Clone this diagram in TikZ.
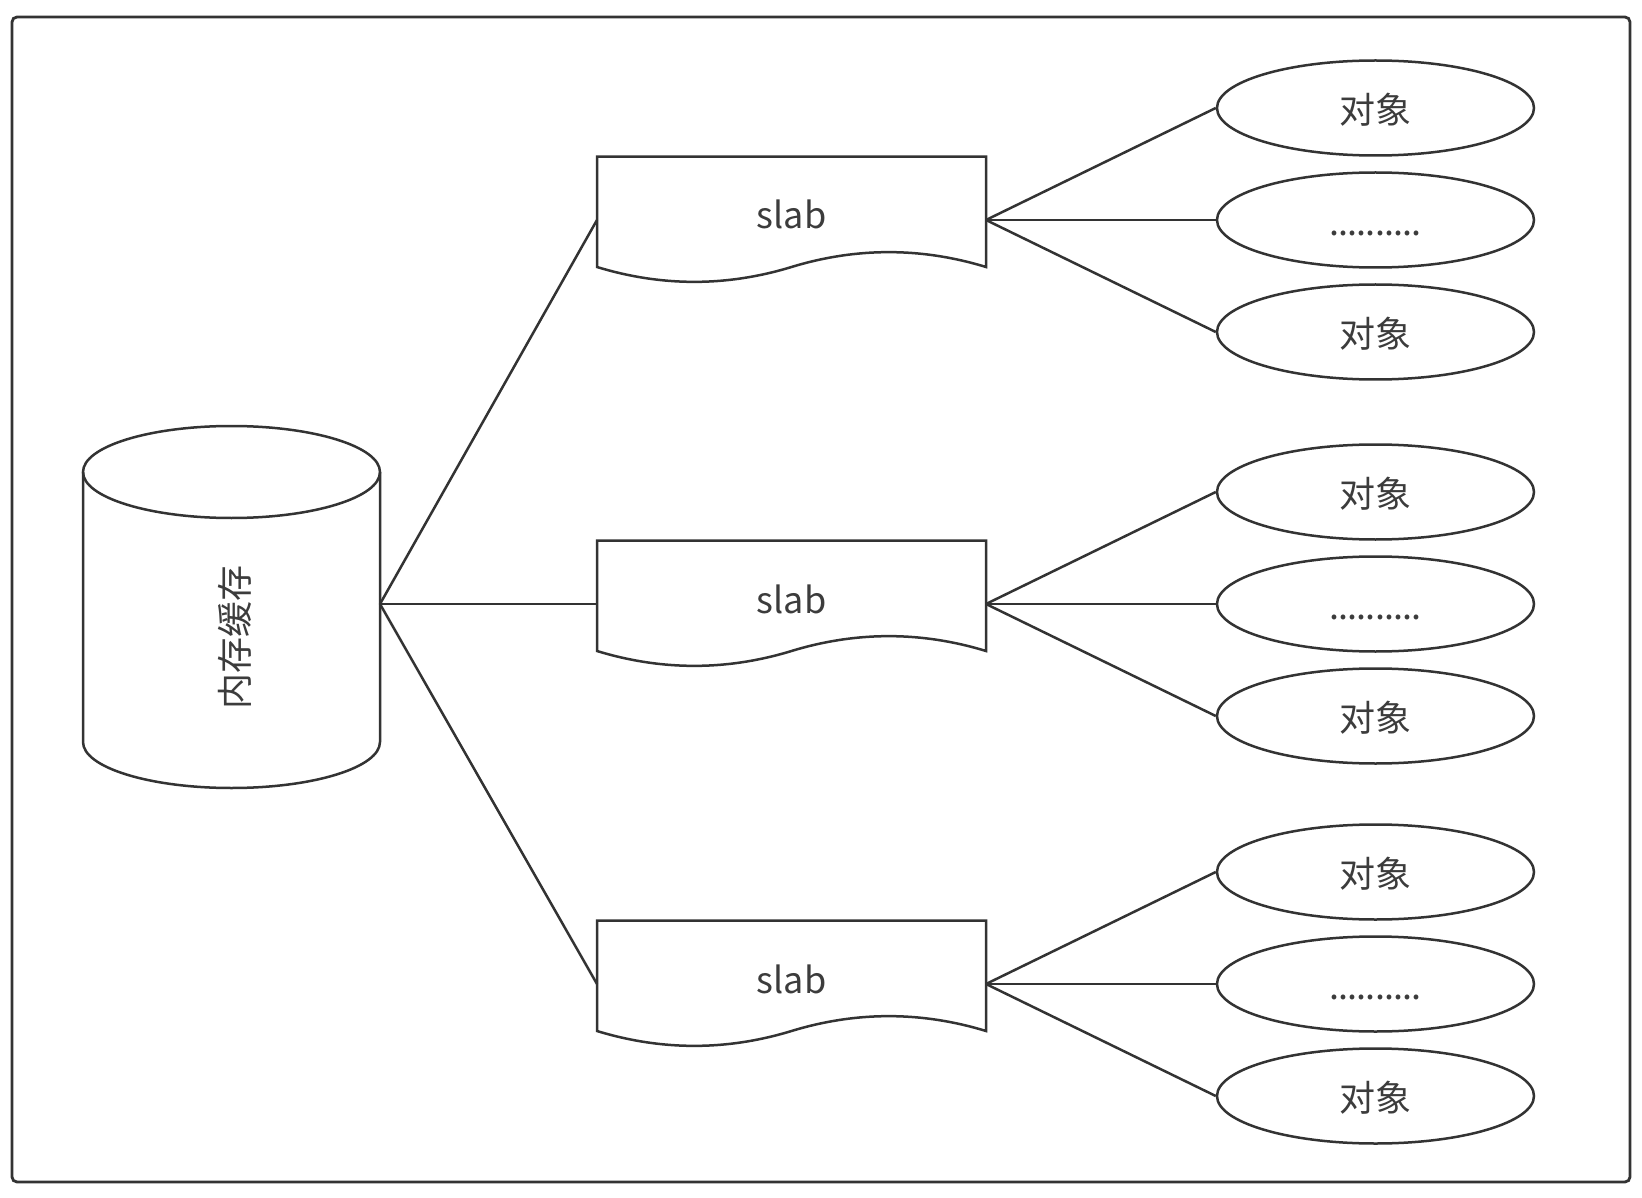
\documentclass[tikz,border=0pt]{standalone}
\usepackage{fontspec}
\setmainfont{Noto Sans CJK SC}
\usetikzlibrary{shapes.geometric}
\definecolor{ln}{HTML}{333333}
\definecolor{tx}{HTML}{3C3C3C}
\newcommand\mydot{\makebox[9.1pt]{.}}
\begin{document}
\begin{tikzpicture}[x=1pt,y=-1pt]
\tikzset{
  lbl/.style={font=\fontsize{36}{43}\selectfont, text=tx, text height=31.4pt, text depth=0pt, inner sep=0pt},
  slabtxt/.style={font=\fontsize{36}{43}\selectfont, text=tx, text height=26pt, text depth=8pt, inner sep=0pt, outer sep=0pt},
  obj/.style={ellipse, draw=ln, line width=2.5pt, fill=white, minimum width=317pt, minimum height=95pt, lbl},
  conn/.style={draw=ln, line width=2.5pt},
  shp/.style={draw=ln, line width=2.5pt, line join=miter},
}
\useasboundingbox (0,0) rectangle (1642,1198);
\fill[white] (0,0) rectangle (1642,1198);
% frame
\draw[shp, line width=2.8pt, rounded corners=5pt] (12,17) rectangle (1630,1182);
% cylinder
\draw[shp, fill=white] (83,472) -- (83,742) arc[start angle=180, end angle=0, x radius=148.5, y radius=46] -- (380,472);
\draw[shp] (231.5,472) ellipse[x radius=148.5, y radius=46];
\node[inner sep=0pt, outer sep=0pt, minimum width=297pt, minimum height=363pt] (cyl) at (231.5,604) {};
\node[lbl, rotate=90] (cyltxt) at (232.5,637.5) {内存缓存};
% slabs and objects
\foreach \i/\c in {1/220,2/604,3/984} {
  \draw[shp, fill=white] (597,\c-63.35) -- (986,\c-63.35) -- (986,\c+47)
     .. controls (921.2,\c+27.2) and (856.3,\c+27.2) .. (791.5,\c+47)
     .. controls (726.7,\c+66.8) and (661.8,\c+66.8) .. (597,\c+47) -- cycle;
  \node[slabtxt, minimum width=389pt, minimum height=126.7pt] (s\i) at (791.5,\c) {slab};
  \draw[conn] (cyl.east) -- (s\i.west);
  \node[obj] (t\i) at (1375.5,\c-112) {对象};
  \node[obj] (m\i) at (1375.5,\c) {\mydot\mydot\mydot\mydot\mydot\mydot\mydot\mydot\mydot\mydot};
  \node[obj] (b\i) at (1375.5,\c+112) {对象};
  \draw[conn] (s\i.east) -- (t\i.west);
  \draw[conn] (s\i.east) -- (m\i.west);
  \draw[conn] (s\i.east) -- (b\i.west);
}
\end{tikzpicture}
\end{document}
